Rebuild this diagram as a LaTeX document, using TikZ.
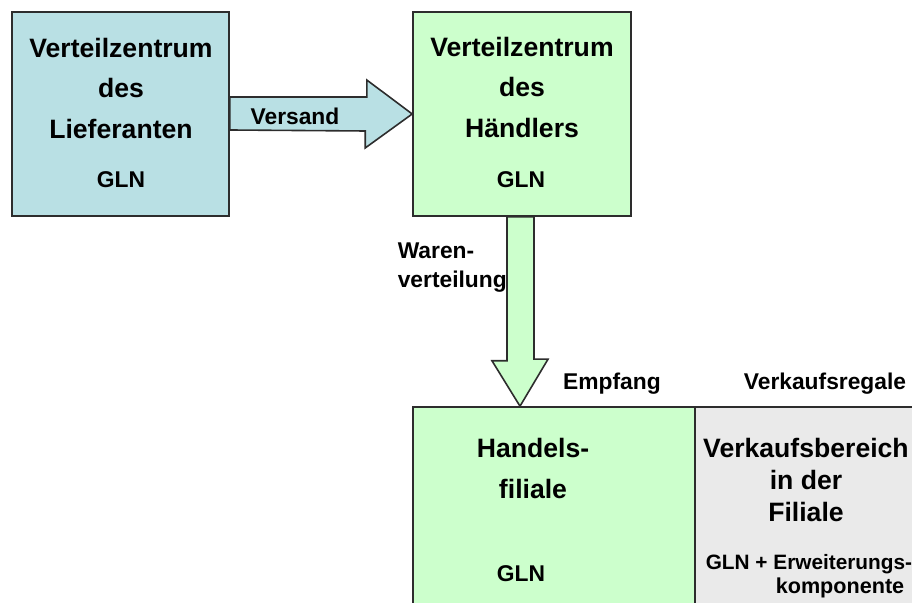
\documentclass[tikz,border=0pt]{standalone}
\usepackage{fontspec}
\setmainfont{Liberation Sans}
\usetikzlibrary{calc}

\definecolor{liefblue}{RGB}{185,224,228}
\definecolor{handgreen}{RGB}{204,255,204}
\definecolor{regalgray}{RGB}{234,234,234}
\definecolor{rand}{RGB}{45,45,45}

\begin{document}
\begin{tikzpicture}[x=0.5pt, y=-0.5pt, line width=0.8pt,
    box/.style={draw=rand, rectangle, inner sep=0pt},
    big/.style={font=\fontsize{13.3}{20.25}\selectfont\bfseries, align=center, inner sep=0pt},
    small/.style={font=\fontsize{11.4}{14.5}\selectfont\bfseries, inner sep=0pt},
    fat/.style={draw=rand, line join=miter}]

    % Frame of the picture (pixel grid, y downwards)
    \useasboundingbox (0,0) rectangle (912,603);
    \clip (0,0) rectangle (912,603);

    % Boxes
    \node[box, fill=liefblue, minimum width=108.5pt, minimum height=102pt] (lief) at (120.5,114) {};
    \node[box, fill=handgreen, minimum width=109pt, minimum height=102pt] (dc) at (522,114) {};
    \node[box, fill=handgreen, minimum width=141pt, minimum height=120pt] (filiale) at (554,527) {};
    \node[box, fill=regalgray, minimum width=132.5pt, minimum height=120pt] (regal) at (827.5,527) {};

    % Versand (fat arrow to the right)
    \draw[fat, fill=liefblue] ($(lief.east)+(0,-17)$) -- ++(137,0) -- ++(0,-17)
        -- (dc.west) -- ++(-47,34) -- ++(0,-17) -- ($(lief.east)+(0,16)$) -- cycle;

    % Warenverteilung (fat arrow downwards)
    \coordinate (tip) at ($(dc.south)+(-2,0)$);
    \coordinate (tip) at (tip |- filiale.north);
    \draw[fat, fill=handgreen] ($(dc.south)+(-15,0)$) -- ++(0,144) -- ++(-15,0)
        -- (tip) -- ++(28,-47) -- ++(-14,0) -- ($(dc.south)+(12,0)$) -- cycle;

    % Texts in the boxes
    \node[big] (liefname) at (121,88) {Verteilzentrum\\des\\Lieferanten};
    \node[small] (liefgln) at (121,180) {GLN};
    \node[big] (dcname) at (522,87) {Verteilzentrum\\des\\H\"andlers};
    \node[small] (dcgln) at (521,180) {GLN};
    \node[big, font=\fontsize{13.3}{20.5}\selectfont\bfseries] (filname) at (533,468) {Handels-\\filiale};
    \node[small] (filgln) at (521,574) {GLN};
    \node[big, font=\fontsize{13.3}{16}\selectfont\bfseries] (regalname) at (806,480) {Verkaufsbereich\\in der\\Filiale};
    \node[small, font=\fontsize{10.4}{12}\selectfont\bfseries, anchor=west] (regalgln) at (705,564) {GLN + Erweiterungs-};
    \node[small, font=\fontsize{10.8}{12}\selectfont\bfseries, anchor=east] (regalkomp) at (905,588) {komponente};

    % Labels of arrows and areas
    \node[small] (versand) at (295,116) {Versand};
    \node[small, align=left, anchor=west] (waren) at (397,268) {Waren-\\verteilung};
    \node[small] (empfang) at (612,384) {Empfang};
    \node[small] (regale) at (825,384) {Verkaufsregale};
\end{tikzpicture}
\end{document}
